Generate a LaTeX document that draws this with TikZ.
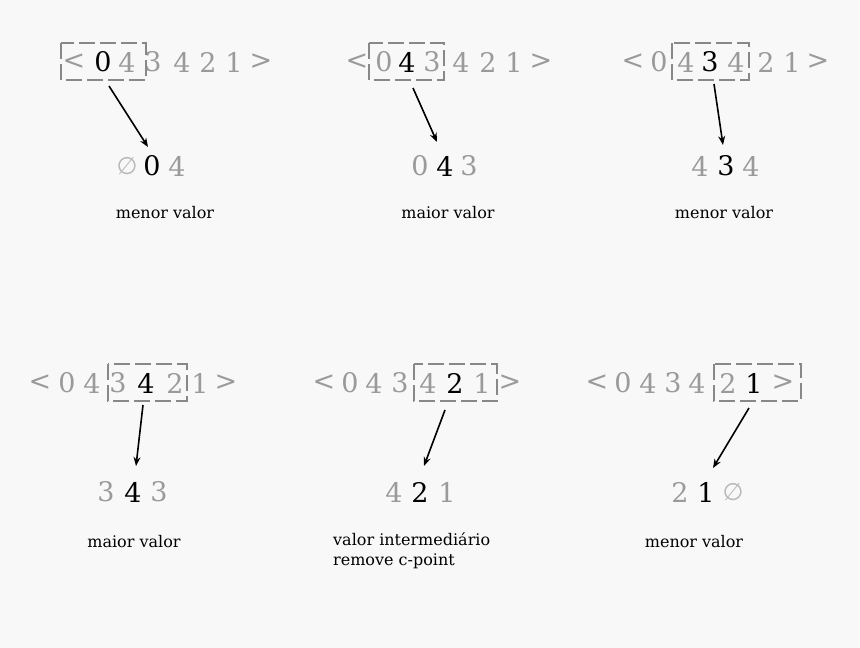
\documentclass[tikz,border=0pt]{standalone}
\usetikzlibrary{arrows.meta}
\usepackage{fontspec}
\setmainfont{DejaVu Serif}
\newfontfamily\symf{DejaVu Sans}
\definecolor{gr}{HTML}{9A9A9A}
\definecolor{bx}{HTML}{888888}
\definecolor{bg}{HTML}{F8F8F8}
\tikzset{
 tok/.style={inner sep=0pt,font=\fontsize{27}{27}\selectfont,text=gr,anchor=center},
 hi/.style={text=black},
 lab/.style={font=\fontsize{16}{20}\selectfont,inner sep=0pt},
 win/.style={draw=bx,line width=2.8pt,dash pattern=on 16pt off 5pt},
 arr/.style={-{Stealth[length=9pt,width=7pt]},line width=1.6pt}
}
\newcommand{\mkseq}[4]{% prefix, y, xlist, highlight index
 \foreach \xx [count=\i] in {#3}{
  \pgfmathsetmacro\tk{{"<","0","4","3","4","2","1",">"}[\i-1]}
  \ifnum\i=#4 \node[tok,hi] (#1\i) at (\xx,#2) {\tk};
  \else \node[tok] (#1\i) at (\xx,#2) {\tk};\fi
 }
}
\begin{document}
\begin{tikzpicture}[x=1pt,y=-1pt]
\fill[bg] (0,0) rectangle (860,648);
\useasboundingbox (0,0) rectangle (860,648);
% top row
\mkseq{a}{62}{74,103,127,153,182,208,234,261}{2}
\mkseq{b}{62}{357,384,407,432,461,488,514,541}{3}
\mkseq{c}{62}{633,659,686,710,736,766,792,818}{4}
\mkseq{d}{383}{40,67,92,118,146,175,200,226}{5}
\mkseq{e}{383}{324,350,374,400,428,455,482,510}{6}
\mkseq{f}{383}{597,623,648,673,697,728,754,783}{7}
\draw[win] (61,43) rectangle (146,80);
\draw[win] (369,43) rectangle (444,80);
\draw[win] (672,43) rectangle (749,80);
\draw[win] (108,364) rectangle (187,401);
\draw[win] (414,364) rectangle (497,401);
\draw[win] (714,364) rectangle (801,401);
% results
\node[tok,font=\symf\fontsize{24}{24}\selectfont,text=gr!70] (ra1) at (127,166) {∅};
\node[tok,hi] (ra2) at (152,166) {0};
\node[tok] (ra3) at (177,166) {4};
\node[tok] (rb1) at (420,166) {0};
\node[tok,hi] (rb2) at (445,166) {4};
\node[tok] (rb3) at (469,166) {3};
\node[tok] (rc1) at (700,166) {4};
\node[tok,hi] (rc2) at (726,166) {3};
\node[tok] (rc3) at (751,166) {4};
\node[tok] (rd1) at (106,492) {3};
\node[tok,hi] (rd2) at (133,492) {4};
\node[tok] (rd3) at (159,492) {3};
\node[tok] (re1) at (394,492) {4};
\node[tok,hi] (re2) at (420,492) {2};
\node[tok] (re3) at (447,492) {1};
\node[tok] (rf1) at (680,492) {2};
\node[tok,hi] (rf2) at (706,492) {1};
\node[tok,font=\symf\fontsize{24}{24}\selectfont,text=gr!70] (rf3) at (733,492) {∅};
% arrows
\coordinate (sa) at (109,86); \coordinate (ta) at (148,147);
\coordinate (sb) at (413,88); \coordinate (tb) at (437,142);
\coordinate (sc) at (714,84); \coordinate (tc) at (723,145);
\coordinate (sd) at (143,405); \coordinate (td) at (136,466);
\coordinate (se) at (445,410); \coordinate (te) at (424,466);
\coordinate (sf) at (749,408); \coordinate (tf) at (713,468);
\foreach \p in {a,b,c,d,e,f}{\draw[arr] (s\p) -- (t\p);}
% labels
\node[lab] (la) at (165,213) {menor valor};
\node[lab] (lb) at (448,213) {maior valor};
\node[lab] (lc) at (724,213) {menor valor};
\node[lab] (ld) at (134,542) {maior valor};
\node[lab,anchor=north west,align=left] (le) at (333,532) {valor intermediário\\remove c-point};
\node[lab] (lf) at (694,542) {menor valor};
\end{tikzpicture}
\end{document}
